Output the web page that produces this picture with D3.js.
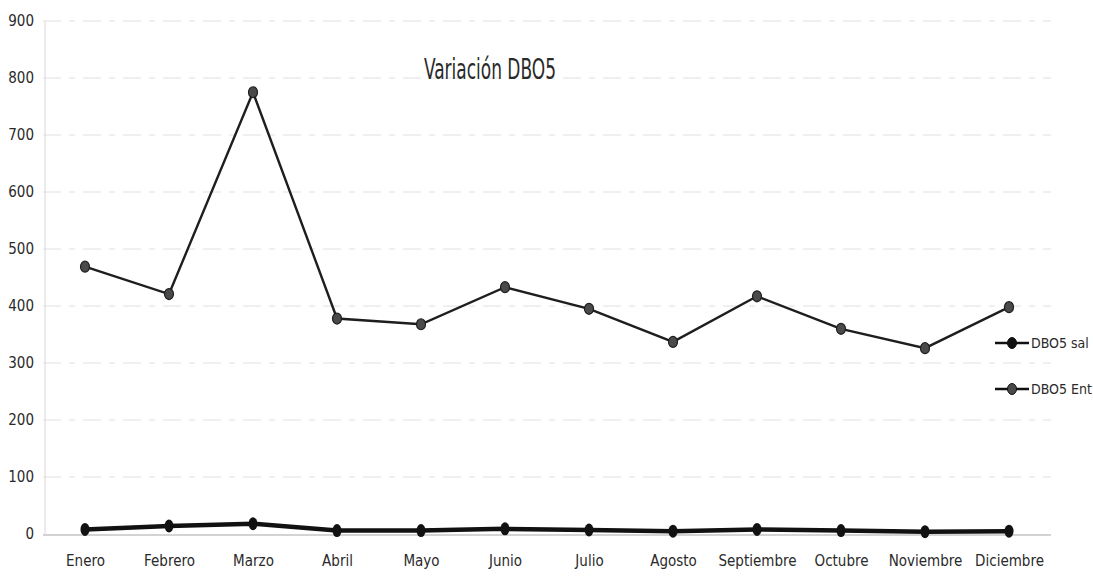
<!DOCTYPE html>
<html>
<head>
<meta charset="utf-8">
<script src="https://cdn.jsdelivr.net/npm/d3@7"></script>
<style>
  html, body { margin: 0; padding: 0; background: #fff; }
  svg { display: block; }
  text { font-family: "DejaVu Sans Condensed", "Liberation Sans Narrow", "Open Sans", sans-serif; fill: #2a2a2a; }
</style>
</head>
<body>
<svg id="chart" width="1093" height="580"></svg>
<script>
// Monthly DBO5 readings (mg/L)
const months = ["Enero", "Febrero", "Marzo", "Abril", "Mayo", "Junio", "Julio",
                "Agosto", "Septiembre", "Octubre", "Noviembre", "Diciembre"];
const dboEnt = [469, 421, 775, 378, 368, 433, 395, 337, 417, 360, 326, 398];
const dboSal = [8, 14, 18, 6, 6, 9, 7, 5, 8, 6, 4, 5];
const yTicks = [0, 100, 200, 300, 400, 500, 600, 700, 800, 900];
const seriesNames = ["DBO5 sal", "DBO5 Ent"];

const svg = d3.select("#chart");
const plotLeft = 43, plotRight = 1051, plotTop = 21, plotBottom = 534;
const labelFont = "'DejaVu Sans Condensed', 'Liberation Sans Narrow', sans-serif";

const x = d3.scalePoint().domain(months).range([plotLeft, plotRight]).padding(0.5);
const y = d3.scaleLinear().domain([0, 900]).range([plotBottom, plotTop]);

// horizontal gridlines
svg.append("g")
  .selectAll("line")
  .data(yTicks.filter(d => d > 0))
  .join("line")
  .attr("x1", plotLeft).attr("x2", plotRight)
  .attr("y1", d => y(d)).attr("y2", d => y(d))
  .attr("stroke", "#e0e0e0")
  .attr("stroke-width", 1)
  .attr("stroke-dasharray", "18,8,6,8");

// y axis line and baseline
svg.append("line").attr("x1", plotLeft + 2).attr("x2", plotLeft + 2).attr("y1", plotTop).attr("y2", plotBottom)
  .attr("stroke", "#d8d8d8").attr("stroke-width", 1);
svg.append("line").attr("x1", plotLeft).attr("x2", plotRight).attr("y1", plotBottom + 1).attr("y2", plotBottom + 1)
  .attr("stroke", "#c4c4c4").attr("stroke-width", 1.5);

// y tick labels
const yAxis = d3.axisLeft(y).tickValues(yTicks).tickSize(0).tickPadding(0);
const gy = svg.append("g").attr("transform", "translate(34,0)").call(yAxis);
gy.select(".domain").remove();
gy.selectAll("text").style("font-size", "15px").attr("fill", "#2a2a2a")
  .style("font-family", labelFont);

// x tick labels
const xAxis = d3.axisBottom(x).tickSize(0).tickPadding(0);
const gx = svg.append("g").attr("transform", "translate(0,555)").call(xAxis);
gx.select(".domain").remove();
gx.selectAll("text").style("font-size", "15px").attr("fill", "#2a2a2a")
  .style("font-family", labelFont);

// title
svg.append("text")
  .attr("x", 490).attr("y", 79)
  .attr("text-anchor", "middle")
  .attr("textLength", 132).attr("lengthAdjust", "spacingAndGlyphs")
  .style("font-size", "28px")
  .text("Variación DBO5");

const line = d3.line().x((d, i) => x(months[i])).y(d => y(d));

// DBO5 Ent series
svg.append("path").datum(dboEnt)
  .attr("d", line).attr("fill", "none")
  .attr("stroke", "#1e1e1e").attr("stroke-width", 2.4);
svg.append("g").selectAll("ellipse").data(dboEnt).join("ellipse")
  .attr("cx", (d, i) => x(months[i])).attr("cy", d => y(d))
  .attr("rx", 4.5).attr("ry", 5.5)
  .attr("fill", "#4a4a4a").attr("stroke", "#1e1e1e").attr("stroke-width", 1.2);

// DBO5 sal series
svg.append("path").datum(dboSal)
  .attr("d", line).attr("fill", "none")
  .attr("stroke", "#111").attr("stroke-width", 4.5);
svg.append("g").selectAll("ellipse").data(dboSal).join("ellipse")
  .attr("cx", (d, i) => x(months[i])).attr("cy", d => y(d))
  .attr("rx", 4.5).attr("ry", 6.5)
  .attr("fill", "#111");

// legend
const legend = svg.append("g");
const legendRows = [
  { name: seriesNames[0], y: 343, fill: "#111", sw: 2.6 },
  { name: seriesNames[1], y: 389, fill: "#4a4a4a", sw: 2.4 }
];
legendRows.forEach(r => {
  legend.append("line").attr("x1", 995).attr("x2", 1029).attr("y1", r.y).attr("y2", r.y)
    .attr("stroke", "#111").attr("stroke-width", r.sw);
  legend.append("ellipse").attr("cx", 1012).attr("cy", r.y).attr("rx", 4.5).attr("ry", 5.5)
    .attr("fill", r.fill).attr("stroke", "#111").attr("stroke-width", 1);
  legend.append("text").attr("x", 1031).attr("y", r.y + 5)
    .style("font-size", "14px").text(r.name);
});
</script>
</body>
</html>
